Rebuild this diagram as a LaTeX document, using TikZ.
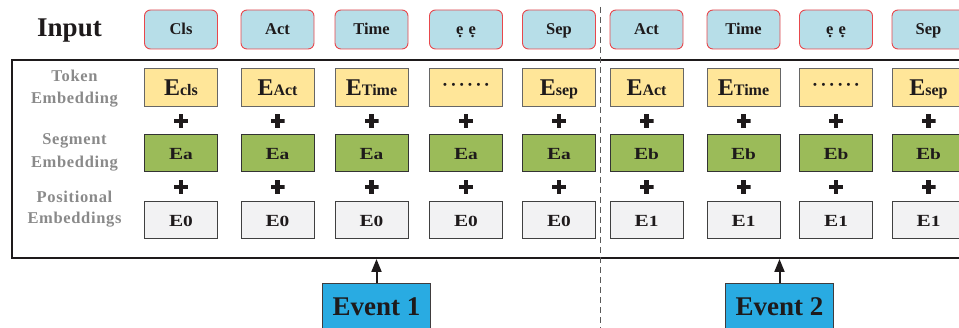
\documentclass[tikz,border=0pt]{standalone}
\usepackage{fontspec}
\setmainfont{Liberation Serif}
\usetikzlibrary{arrows.meta,calc}

\definecolor{inblue}{HTML}{B7DEE8}
\definecolor{inred}{HTML}{E8474C}
\definecolor{tokyel}{HTML}{FFE699}
\definecolor{seggreen}{HTML}{9BBB59}
\definecolor{posgray}{HTML}{F2F2F3}
\definecolor{evblue}{HTML}{29ABE2}
\definecolor{lblgray}{HTML}{8A8A8A}
\definecolor{ink}{HTML}{1E1A1B}

\newcommand\fs[1]{\fontsize{#1}{#1}\selectfont}
% big letter followed by a smaller suffix on the same baseline
\newcommand\tokE[2]{{\fs{24}#1}{\fs{16}#2}}
% same idea, set slightly wide
\newcommand\segE[2]{\scalebox{1.25}[1]{{\fs{17}#1}{\fs{15.5}#2}}}
\newcommand\sixdots{\raisebox{7pt}{\fs{11}•\kern4.5pt•\kern4.5pt•\kern4.5pt•\kern4.5pt•\kern4.5pt•}}
\newcommand\eedots{ẹ\hspace{5pt}ẹ}

\tikzset{
  inbox/.style={draw=inred, line width=0.9pt, fill=inblue, rounded corners=6pt,
    minimum width=73pt, minimum height=39pt, inner sep=0pt,
    text height=11pt, text depth=0pt, font=\bfseries\fs{16.5}, text=ink},
  cell/.style={line width=1pt, minimum width=73pt, inner sep=0pt,
    text depth=0pt, font=\bfseries, text=ink},
  tokbox/.style={cell, draw=black!60, fill=tokyel, minimum height=38pt, text height=16pt},
  segbox/.style={cell, draw=black!80, fill=seggreen, minimum height=37pt, text height=11.5pt},
  posbox/.style={cell, draw=black!75, fill=posgray, minimum height=37pt, text height=11.5pt},
  lbl/.style={font=\bfseries\fs{16.5}\addfontfeature{LetterSpace=4}, text=lblgray, anchor=base, inner sep=0pt},
  plussign/.style={minimum size=14pt, inner sep=0pt,
    path picture={
      \fill[ink] ([xshift=-7pt,yshift=-2.4pt]path picture bounding box.center) rectangle ++(14pt,4.8pt);
      \fill[ink] ([xshift=-2.4pt,yshift=-7pt]path picture bounding box.center) rectangle ++(4.8pt,14pt);
    }},
  evbox/.style={draw=ink!85, line width=1pt, fill=evblue, minimum width=108pt,
    inner xsep=0pt, inner ysep=15pt, text height=17pt, text depth=0pt,
    font=\bfseries\fs{27}, text=ink, anchor=base},
  uparrow/.style={-{Triangle[length=13pt,width=10pt]}, line width=2pt, draw=ink},
}

\begin{document}
\begin{tikzpicture}[x=1pt,y=-1pt]
  \useasboundingbox (0,0) rectangle (959,328);
  \clip (0,0) rectangle (959,328);

  % outer frame around the three embedding rows
  \node[draw=ink, line width=2pt, minimum width=975pt, minimum height=198pt,
        inner sep=0pt, anchor=north west] (frame) at (11,59) {};

  % separator between the two events
  \draw[dashed, dash pattern=on 6pt off 4pt, line width=1pt, draw=black!65] (600,7) -- (600,328);

  % row label for the inputs
  \node[anchor=base, font=\bfseries\fs{27}, text=ink, inner sep=0pt] (inp) at (69.5,37) {Input};

  % input tokens
  \foreach \x/\t [count=\i] in {181/Cls, 277.5/Act, 371.5/Time, 466/{\eedots}, 559/Sep,
                                646.5/Act, 743.5/Time, 836/{\eedots}, 928.5/Sep}
    \node[inbox] (in\i) at (\x,29.5) {\t};

  % token embeddings
  \foreach \x/\t [count=\i] in {181/{\tokE{E}{cls}}, 277.5/{\tokE{E}{Act}}, 371.5/{\tokE{E}{Time}},
                                466/{\sixdots}, 559/{\tokE{E}{sep}}, 646.5/{\tokE{E}{Act}},
                                743.5/{\tokE{E}{Time}}, 836/{\sixdots}, 928.5/{\tokE{E}{sep}}}
    \node[tokbox] (tok\i) at (\x,88) {\t};

  % segment embeddings
  \foreach \x/\t [count=\i] in {181/a, 277.5/a, 371.5/a, 466/a, 559/a,
                                646.5/b, 743.5/b, 836/b, 928.5/b}
    \node[segbox] (seg\i) at (\x,153.5) {\segE{E}{\t}};

  % positional embeddings
  \foreach \x/\t [count=\i] in {181/0, 277.5/0, 371.5/0, 466/0, 559/0,
                                646.5/1, 743.5/1, 836/1, 928.5/1}
    \node[posbox] (pos\i) at (\x,220.5) {\segE{E}{\t}};

  % plus signs between the rows
  \foreach \i in {1,...,9} {
    \node[plussign] (pa\i) at ($(tok\i.south)!0.5!(seg\i.north)$) {};
    \node[plussign] (pb\i) at ($(seg\i.south)!0.5!(pos\i.north)$) {};
  }

  % row labels
  \node[lbl] (lt1) at (74.5,82)  {Token};
  \node[lbl] (lt2) at (74.5,104) {Embedding};
  \node[lbl] (ls1) at (74.5,145) {Segment};
  \node[lbl] (ls2) at (74.5,168) {Embedding};
  \node[lbl] (lp1) at (74.5,203) {Positional};
  \node[lbl] (lp2) at (74.5,224) {Embeddings};

  % events feeding the frame
  \node[evbox] (ev1) at (376.5,316) {Event 1};
  \node[evbox] (ev2) at (779.5,316) {Event 2};
  \draw[uparrow] (ev1.north) -- (ev1.north |- frame.south);
  \draw[uparrow] (ev2.north) -- (ev2.north |- frame.south);
\end{tikzpicture}
\end{document}
